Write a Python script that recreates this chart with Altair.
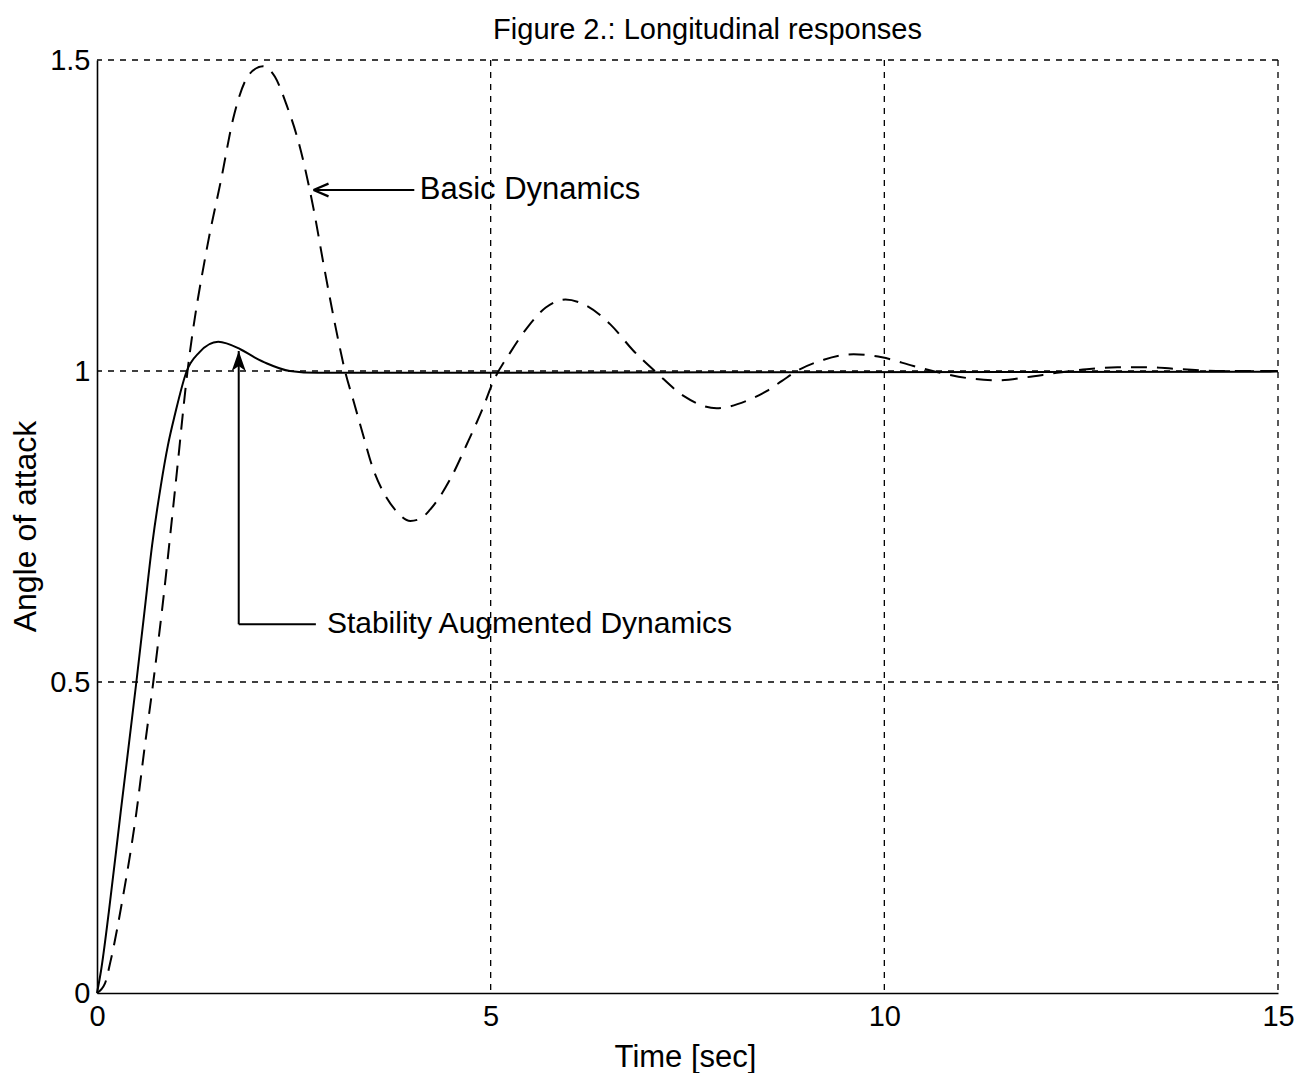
import altair as alt
import pandas as pd

# ---- data ----
basic_t = [0, 0.1, 0.17, 0.33, 0.5, 0.6, 0.715, 0.83, 1.0, 1.15, 1.4, 1.58, 1.73, 1.94, 2.11,
           2.26, 2.41, 2.56, 2.75, 2.88, 3.07, 3.15, 3.26, 3.38, 3.49, 3.66, 3.8, 3.98, 4.1,
           4.23, 4.49, 4.7, 4.89, 5.04, 5.25, 5.46, 5.7, 5.95, 6.2, 6.52, 6.81, 7.11, 7.45,
           7.87, 8.25, 8.51, 8.7, 8.89, 9.23, 9.61, 9.97, 10.37, 10.71, 11.09, 11.47, 11.81,
           12.19, 12.57, 12.96, 13.34, 13.76, 14.3, 15]
basic_y = [0, 0.015, 0.05, 0.155, 0.29, 0.39, 0.5, 0.62, 0.82, 1.0, 1.2, 1.31, 1.406, 1.478, 1.49,
           1.473, 1.427, 1.368, 1.261, 1.17, 1.046, 1.0, 0.951, 0.897, 0.849, 0.8, 0.775, 0.759, 0.762,
           0.777, 0.827, 0.883, 0.937, 0.985, 1.03, 1.069, 1.102, 1.115, 1.106, 1.075, 1.033, 0.997, 0.96,
           0.94, 0.952, 0.968, 0.984, 1.0, 1.018, 1.027, 1.022, 1.008, 0.997, 0.988, 0.985, 0.99,
           0.997, 1.003, 1.006, 1.006, 1.003, 1.0, 1.0]

aug_t = [0, 0.05, 0.15, 0.3, 0.5, 0.6, 0.7, 0.81, 0.9, 0.99, 1.14, 1.3, 1.54, 1.82, 2.0, 2.16, 2.45,
         2.8, 3.5, 5, 8, 15]
aug_y = [0, 0.035, 0.13, 0.29, 0.5, 0.61, 0.72, 0.815, 0.88, 0.93, 1.0, 1.03, 1.047, 1.035, 1.022,
         1.012, 1.0, 0.997, 0.997, 0.997, 0.998, 0.999]

x_ticks = [0, 5, 10, 15]
y_ticks = [0, 0.5, 1, 1.5]
grid_x = [5, 10, 15]
grid_y = [0.5, 1, 1.5]

# annotation anchors (data units)
basic_label = "Basic Dynamics"
basic_arrow_tip = (2.75, 1.291)
basic_arrow_end = 4.03
basic_text_x = 4.10
aug_label = "Stability Augmented Dynamics"
aug_arrow_tip = (1.80, 1.032)
aug_corner_y = 0.593
aug_line_end = 2.78
aug_text_x = 2.92

FONT = "Liberation Sans"

basic_df = pd.DataFrame({"t": basic_t, "y": basic_y})
aug_df = pd.DataFrame({"t": aug_t, "y": aug_y})

xs = alt.Scale(domain=[0, 15], nice=False, zero=False)
ys = alt.Scale(domain=[0, 1.5], nice=False, zero=False)

x_axis = alt.Axis(values=x_ticks, format="~g", title="Time [sec]", labelFlush=False,
                  labelOverlap=False, labelPadding=9, titleX=588, titleY=64,
                  titleBaseline="middle", titleAlign="center", titleFontSize=31)
y_axis = alt.Axis(values=y_ticks, format="~g", title="Angle of attack", labelFlush=False,
                  labelOverlap=False, labelPadding=7, titleX=-72, titleY=466,
                  titleAngle=270, titleBaseline="middle", titleAlign="center",
                  titleFontSize=32)

basic_line = alt.Chart(basic_df).mark_line(
    color="black", strokeWidth=2, strokeDash=[16, 10], interpolate="monotone"
).encode(x=alt.X("t:Q", scale=xs, axis=x_axis), y=alt.Y("y:Q", scale=ys, axis=y_axis))

aug_line = alt.Chart(aug_df).mark_line(
    color="black", strokeWidth=2, interpolate="monotone"
).encode(x=alt.X("t:Q", scale=xs), y=alt.Y("y:Q", scale=ys))

gx = alt.Chart(pd.DataFrame({"g": grid_x})).mark_rule(
    color="black", strokeWidth=1.3, strokeDash=[6, 6]
).encode(x=alt.X("g:Q", scale=xs))
gy = alt.Chart(pd.DataFrame({"g": grid_y})).mark_rule(
    color="black", strokeWidth=1.3, strokeDash=[6, 6]
).encode(y=alt.Y("g:Q", scale=ys))

# annotation for basic dynamics
b_rule = alt.Chart(pd.DataFrame({"x1": [basic_arrow_tip[0]], "x2": [basic_arrow_end],
                                 "y": [basic_arrow_tip[1]]})).mark_rule(
    color="black", strokeWidth=2
).encode(x=alt.X("x1:Q", scale=xs), x2="x2:Q", y=alt.Y("y:Q", scale=ys))
b_head = alt.Chart(pd.DataFrame({"x": [basic_arrow_tip[0]], "y": [basic_arrow_tip[1]]})).mark_point(
    shape="M 0 0 L 2 -0.85 M 0 0 L 2 0.85", size=225, filled=False, stroke="black",
    strokeWidth=2.2, opacity=1
).encode(x=alt.X("x:Q", scale=xs), y=alt.Y("y:Q", scale=ys))
b_text = alt.Chart(pd.DataFrame({"x": [basic_text_x], "y": [basic_arrow_tip[1]],
                                 "label": [basic_label]})).mark_text(
    align="left", baseline="middle", font=FONT, fontSize=31, color="black"
).encode(x=alt.X("x:Q", scale=xs), y=alt.Y("y:Q", scale=ys), text="label:N")

# annotation for stability augmented dynamics
a_v = alt.Chart(pd.DataFrame({"x": [aug_arrow_tip[0]], "y1": [aug_corner_y],
                              "y2": [aug_arrow_tip[1]]})).mark_rule(
    color="black", strokeWidth=2
).encode(x=alt.X("x:Q", scale=xs), y=alt.Y("y1:Q", scale=ys), y2="y2:Q")
a_h = alt.Chart(pd.DataFrame({"x1": [aug_arrow_tip[0]], "x2": [aug_line_end],
                              "y": [aug_corner_y]})).mark_rule(
    color="black", strokeWidth=2
).encode(x=alt.X("x1:Q", scale=xs), x2="x2:Q", y=alt.Y("y:Q", scale=ys))
a_head = alt.Chart(pd.DataFrame({"x": [aug_arrow_tip[0]], "y": [aug_arrow_tip[1]]})).mark_point(
    shape="M 0 0 L -0.7 2 L 0 1.5 L 0.7 2 Z", size=400, filled=True, fill="black",
    opacity=1
).encode(x=alt.X("x:Q", scale=xs), y=alt.Y("y:Q", scale=ys))
a_text = alt.Chart(pd.DataFrame({"x": [aug_text_x], "y": [aug_corner_y],
                                 "label": [aug_label]})).mark_text(
    align="left", baseline="middle", font=FONT, fontSize=30, color="black"
).encode(x=alt.X("x:Q", scale=xs), y=alt.Y("y:Q", scale=ys), text="label:N")

chart = alt.layer(
    basic_line, gx, gy, aug_line, b_rule, b_head, b_text, a_v, a_h, a_head, a_text
).properties(
    width=1181, height=933,
    title=alt.TitleParams("Figure 2.: Longitudinal responses", font=FONT, fontSize=29,
                          fontWeight="normal", color="black", dx=20, offset=1),
    autosize=alt.AutoSizeParams(type="none"),
    padding={"left": 89, "top": 52, "right": 23, "bottom": 80},
).configure_view(stroke=None).configure_axis(
    domainColor="black", domainWidth=1.6, ticks=False, grid=False,
    labelFont=FONT, labelFontSize=29, labelColor="black",
    titleFont=FONT, titleFontSize=29, titleFontWeight="normal", titleColor="black",
)

chart.save("out.html", embed_options={"renderer": "svg", "actions": False})
